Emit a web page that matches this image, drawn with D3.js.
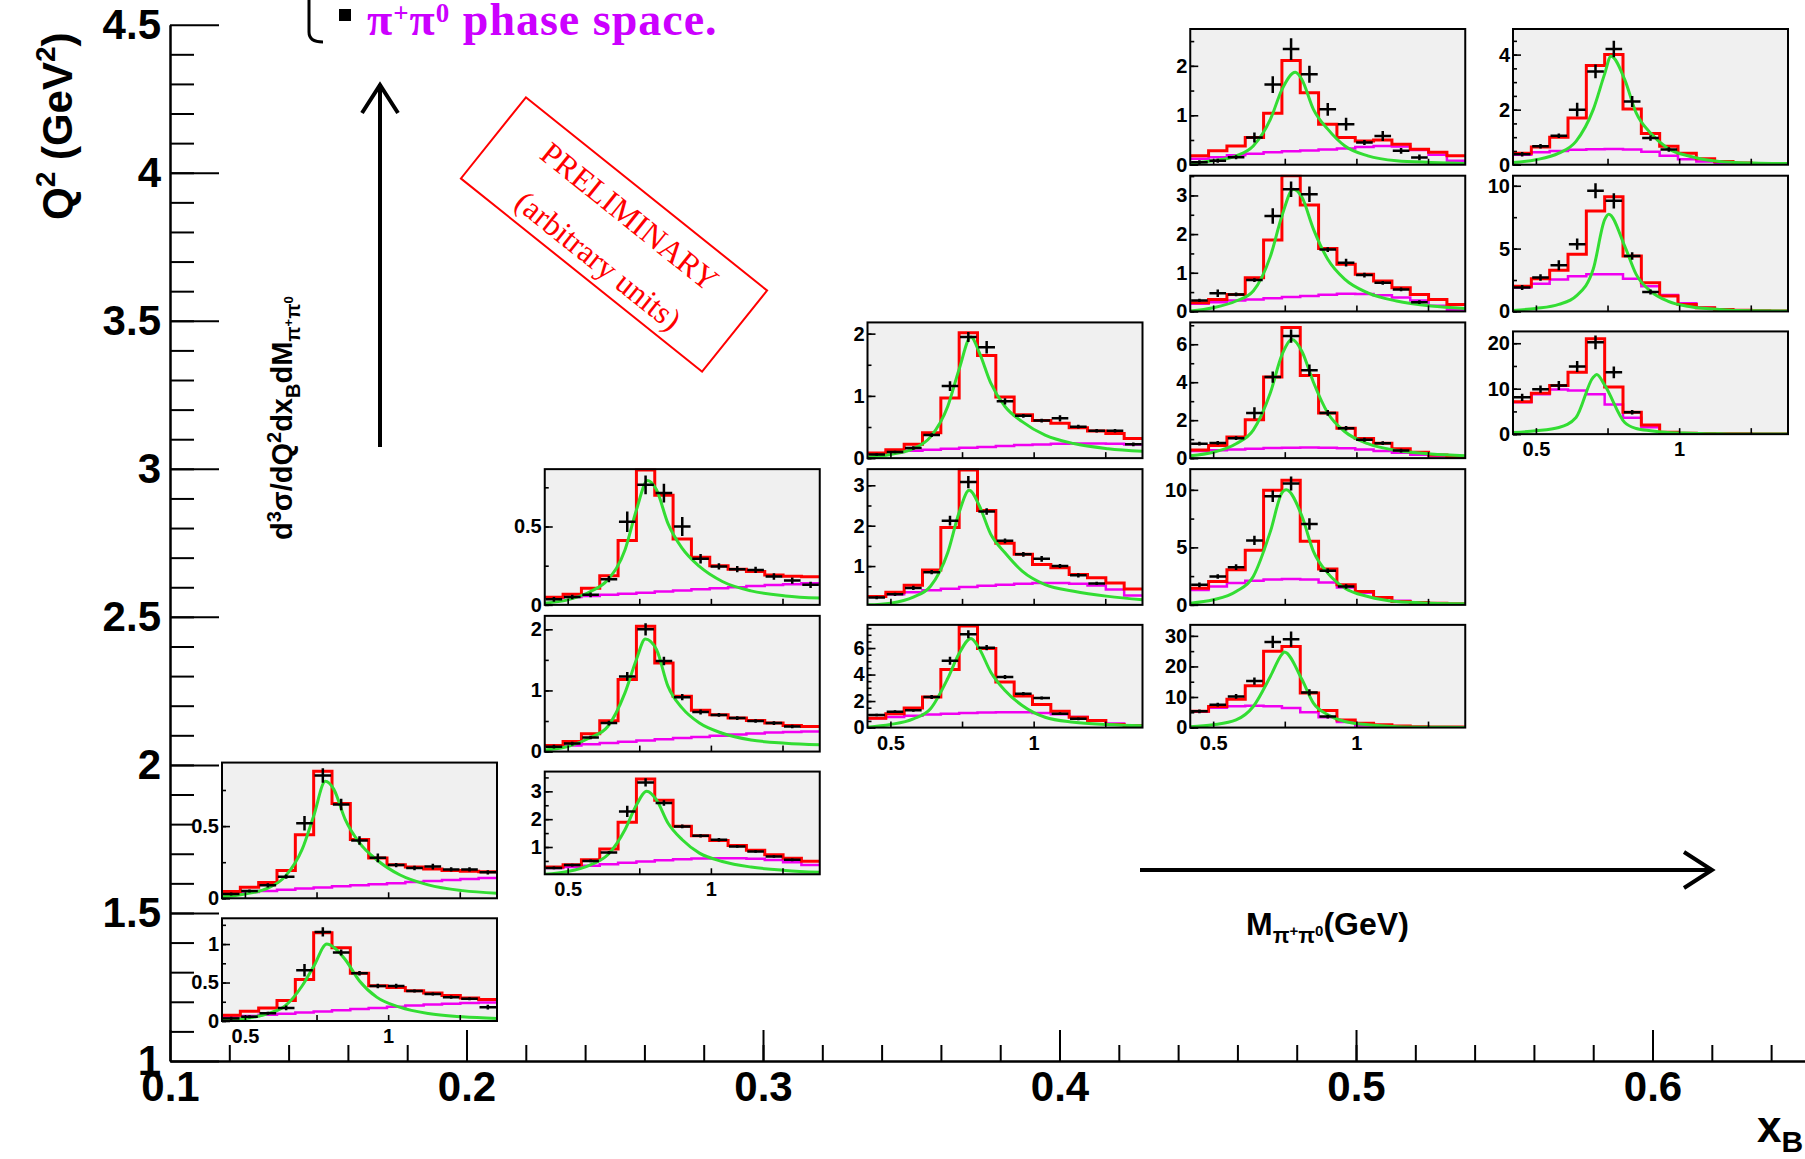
<!DOCTYPE html>
<html>
<head>
<meta charset="utf-8">
<script src="https://cdn.jsdelivr.net/npm/d3@7"></script>
<style>
  html, body { margin: 0; padding: 0; background: #fff; }
  svg { display: block; }
</style>
</head>
<body>
<script>
// ---------------------------------------------------------------------------
// Binning of the pi+ pi0 invariant-mass histograms (GeV)
const massEdges = [0.42, 0.484, 0.548, 0.612, 0.676, 0.74, 0.804, 0.868, 0.932,
                   0.996, 1.06, 1.124, 1.188, 1.252, 1.316, 1.38];
// masses at which the rho(770) line shape is sampled (GeV)
const rhoMass = [0.42, 0.50, 0.58, 0.64, 0.70, 0.74, 0.81, 0.85, 0.90, 0.96, 1.04, 1.14, 1.26, 1.38];

// kinematic bins of the pads: x_B column index and lower Q^2 edge (GeV^2)
const padColumn = [0, 0, 1, 1, 1, 2, 2, 2, 3, 3, 3, 3, 3, 4, 4, 4];
const padQ2Lo   = [1.5, 1.0, 2.5, 2.0, 1.5, 3.0, 2.5, 2.0, 4.0, 3.5, 3.0, 2.5, 2.0, 4.0, 3.5, 3.0];
// vertical range and tick steps of each pad
const padYMin   = [0, 0, 0, 0, 0.02, 0, 0.04, 0, 0, 0, 0, 0, 0, 0, 0, 0];
const padYMax   = [0.94, 1.335, 0.866, 2.22, 3.71, 2.18, 3.4, 7.75, 2.745, 3.51, 7.15, 11.8, 33.6, 4.93, 10.8, 22.6];
const padYStep  = [0.5, 0.5, 0.5, 1, 1, 1, 1, 2, 1, 1, 2, 5, 10, 2, 5, 10];
const padYMinor = [0.25, 0.25, 0.25, 0.5, 0.5, 0.5, 0.5, 0.5, 0.5, 0.5, 1, 2.5, 5, 0.5, 2.5, 5];

// ---- column 1, Q2 1.5-2.0
const total_c1_q15 = [0.047, 0.077, 0.109, 0.193, 0.44, 0.88, 0.656, 0.407, 0.279, 0.233, 0.216, 0.202, 0.193, 0.188, 0.184];
const phsp_c1_q15  = [0.035, 0.043, 0.051, 0.059, 0.067, 0.075, 0.083, 0.091, 0.098, 0.105, 0.112, 0.119, 0.126, 0.133, 0.14];
const data_c1_q15  = [0.03, 0.05, 0.09, 0.15, 0.52, 0.85, 0.65, 0.40, 0.28, 0.23, 0.21, 0.22, 0.20, 0.20, 0.18];
const err_c1_q15   = [0.01, 0.01, 0.015, 0.015, 0.05, 0.05, 0.04, 0.03, 0.03, 0.015, 0.015, 0.02, 0.015, 0.015, 0.015];
const rho_c1_q15   = [0.01, 0.03, 0.07, 0.15, 0.34, 0.57, 0.756, 0.547, 0.384, 0.267, 0.163, 0.093, 0.053, 0.035];
const rhoPk_c1_q15 = [0.781, 0.81];
// ---- column 1, Q2 1.0-1.5
const total_c1_q10 = [0.076, 0.127, 0.17, 0.267, 0.54, 1.148, 0.953, 0.619, 0.458, 0.436, 0.394, 0.364, 0.33, 0.30, 0.28];
const phsp_c1_q10  = [0.05, 0.065, 0.08, 0.095, 0.11, 0.125, 0.14, 0.155, 0.17, 0.185, 0.2, 0.215, 0.225, 0.235, 0.24];
const data_c1_q10  = [0.034, 0.055, 0.10, 0.17, 0.66, 1.157, 0.89, 0.62, 0.455, 0.455, 0.39, 0.35, 0.31, 0.29, 0.18];
const err_c1_q10   = [0.02, 0.02, 0.02, 0.03, 0.08, 0.06, 0.04, 0.03, 0.03, 0.03, 0.02, 0.02, 0.02, 0.02, 0.03];
const rho_c1_q10   = [0.02, 0.034, 0.097, 0.195, 0.458, 0.71, 0.96, 0.8, 0.52, 0.31, 0.18, 0.097, 0.055, 0.034];
const rhoPk_c1_q10 = [0.786, 1.0];
// ---- column 2, Q2 2.5-3.0
const total_c2_q25 = [0.049, 0.068, 0.106, 0.185, 0.41, 0.86, 0.70, 0.42, 0.304, 0.249, 0.228, 0.213, 0.19, 0.182, 0.18];
const phsp_c2_q25  = [0.043, 0.05, 0.057, 0.064, 0.071, 0.078, 0.085, 0.092, 0.099, 0.106, 0.113, 0.12, 0.126, 0.132, 0.138];
const data_c2_q25  = [0.035, 0.05, 0.064, 0.164, 0.53, 0.766, 0.713, 0.50, 0.294, 0.245, 0.228, 0.223, 0.181, 0.155, 0.128];
const err_c2_q25   = [0.015, 0.015, 0.015, 0.02, 0.065, 0.06, 0.06, 0.06, 0.03, 0.02, 0.02, 0.02, 0.02, 0.02, 0.02];
const rho_c2_q25   = [0.011, 0.032, 0.085, 0.16, 0.35, 0.606, 0.734, 0.52, 0.36, 0.245, 0.149, 0.089, 0.057, 0.043];
const rhoPk_c2_q25 = [0.779, 0.794];
// ---- column 2, Q2 2.0-2.5
const total_c2_q20 = [0.099, 0.164, 0.29, 0.504, 1.178, 2.05, 1.45, 0.904, 0.674, 0.603, 0.548, 0.51, 0.466, 0.427, 0.41];
const phsp_c2_q20  = [0.082, 0.1, 0.12, 0.14, 0.16, 0.18, 0.2, 0.22, 0.24, 0.26, 0.28, 0.295, 0.31, 0.32, 0.33];
const data_c2_q20  = [0.08, 0.13, 0.23, 0.466, 1.23, 2.0, 1.48, 0.89, 0.647, 0.60, 0.548, 0.50, 0.466, 0.41, null];
const err_c2_q20   = [0.03, 0.03, 0.03, 0.04, 0.07, 0.1, 0.07, 0.05, 0.04, 0.03, 0.03, 0.03, 0.03, 0.03, 0.03];
const rho_c2_q20   = [0.027, 0.082, 0.23, 0.41, 0.96, 1.507, 1.67, 1.07, 0.71, 0.466, 0.30, 0.19, 0.137, 0.11];
const rhoPk_c2_q20 = [0.771, 1.84];
// ---- column 2, Q2 1.5-2.0
const total_c2_q15 = [0.281, 0.365, 0.545, 0.928, 1.886, 3.443, 2.677, 1.743, 1.407, 1.23, 1.05, 0.88, 0.72, 0.60, 0.485];
const phsp_c2_q15  = [0.25, 0.28, 0.33, 0.38, 0.43, 0.48, 0.52, 0.56, 0.59, 0.60, 0.60, 0.58, 0.53, 0.45, 0.35];
const data_c2_q15  = [0.25, 0.35, 0.5, 0.8, 2.28, 3.32, 2.58, 1.74, 1.40, 1.26, 1.02, 0.84, 0.66, 0.54, null];
const err_c2_q15   = [0.05, 0.05, 0.05, 0.06, 0.2, 0.15, 0.1, 0.07, 0.06, 0.06, 0.05, 0.05, 0.05, 0.05, 0.05];
const rho_c2_q15   = [0.02, 0.12, 0.36, 0.72, 1.62, 2.51, 2.69, 1.86, 1.26, 0.78, 0.48, 0.28, 0.16, 0.09];
const rhoPk_c2_q15 = [0.776, 3.0];
// ---- column 3, Q2 3.0-3.5
const total_c3_q30 = [0.082, 0.136, 0.223, 0.408, 0.967, 2.016, 1.647, 0.984, 0.696, 0.603, 0.56, 0.49, 0.435, 0.397, 0.315];
const phsp_c3_q30  = [0.08, 0.1, 0.12, 0.135, 0.15, 0.165, 0.18, 0.195, 0.21, 0.22, 0.23, 0.235, 0.235, 0.23, 0.22];
const data_c3_q30  = [0.06, 0.1, 0.163, 0.37, 1.157, 1.945, 1.78, 0.913, 0.68, 0.603, 0.64, 0.505, 0.44, 0.44, 0.223];
const err_c3_q30   = [0.02, 0.02, 0.03, 0.03, 0.08, 0.08, 0.1, 0.05, 0.03, 0.03, 0.05, 0.03, 0.03, 0.03, 0.03];
const rho_c3_q30   = [0.016, 0.06, 0.152, 0.342, 0.83, 1.43, 1.70, 1.21, 0.83, 0.587, 0.37, 0.234, 0.152, 0.109];
const rhoPk_c3_q30 = [0.781, 1.946];
// ---- column 3, Q2 2.5-3.0
const total_c3_q25 = [0.25, 0.35, 0.525, 0.9, 1.958, 3.38, 2.375, 1.567, 1.29, 1.04, 0.96, 0.79, 0.71, 0.58, 0.43];
const phsp_c3_q25  = [0.25, 0.3, 0.35, 0.4, 0.44, 0.48, 0.51, 0.54, 0.56, 0.58, 0.58, 0.56, 0.52, 0.42, 0.27];
const data_c3_q25  = [0.22, 0.3, 0.46, 0.85, 2.125, 3.08, 2.35, 1.625, 1.29, 1.18, 1.0, 0.77, 0.57, null, null];
const err_c3_q25   = [0.04, 0.04, 0.05, 0.05, 0.12, 0.15, 0.08, 0.06, 0.06, 0.07, 0.05, 0.05, 0.04, 0.04, 0.04];
const rho_c3_q25   = [0.04, 0.083, 0.233, 0.5, 1.33, 2.33, 2.5, 1.79, 1.33, 0.875, 0.54, 0.375, 0.25, 0.167];
const rhoPk_c3_q25 = [0.775, 2.875];
// ---- column 3, Q2 2.0-2.5
const total_c3_q20 = [0.71, 1.04, 1.47, 2.3, 4.38, 7.67, 5.97, 3.44, 2.38, 1.75, 1.24, 0.78, 0.53, 0.23, 0.15];
const phsp_c3_q20  = [0.7, 0.8, 0.9, 0.98, 1.05, 1.1, 1.14, 1.16, 1.15, 1.1, 1.0, 0.8, 0.55, 0.3, 0.1];
const data_c3_q20  = [0.95, 1.2, 1.3, 2.3, 5.04, 7.04, 6.03, 3.82, 2.56, 2.23, 1.05, 0.66, null, null, null];
const err_c3_q20   = [0.1, 0.1, 0.1, 0.15, 0.3, 0.3, 0.2, 0.15, 0.12, 0.12, 0.1, 0.1, 0.1, 0.1, 0.1];
const rho_c3_q20   = [0.03, 0.23, 0.66, 1.42, 3.7, 5.6, 5.97, 4.2, 2.8, 1.67, 0.78, 0.41, 0.23, 0.13];
const rhoPk_c3_q20 = [0.781, 6.73];
// ---- column 4, Q2 4.0-4.5
const total_c4_q40 = [0.18, 0.28, 0.38, 0.55, 1.04, 2.11, 1.456, 0.82, 0.55, 0.48, 0.50, 0.416, 0.315, 0.25, 0.18];
const phsp_c4_q40  = [0.12, 0.15, 0.19, 0.22, 0.25, 0.27, 0.29, 0.31, 0.33, 0.36, 0.38, 0.37, 0.30, 0.20, 0.08];
const data_c4_q40  = [0.05, 0.08, 0.15, 0.55, 1.62, 2.34, 1.83, 1.12, 0.82, 0.45, 0.58, 0.28, 0.148, null, null];
const err_c4_q40   = [0.04, 0.04, 0.04, 0.1, 0.17, 0.22, 0.17, 0.13, 0.13, 0.05, 0.1, 0.06, 0.06, 0.04, 0.04];
const rho_c4_q40   = [0.03, 0.08, 0.18, 0.38, 0.92, 1.52, 1.72, 1.12, 0.72, 0.38, 0.18, 0.08, 0.047, 0.027];
const rhoPk_c4_q40 = [0.787, 1.87];
// ---- column 4, Q2 3.5-4.0
const total_c4_q35 = [0.225, 0.31, 0.44, 0.87, 1.85, 3.6, 2.75, 1.625, 1.22, 0.96, 0.79, 0.61, 0.44, 0.31, 0.18];
const phsp_c4_q35  = [0.2, 0.24, 0.28, 0.31, 0.34, 0.37, 0.40, 0.43, 0.46, 0.45, 0.42, 0.36, 0.28, 0.15, 0.04];
const data_c4_q35  = [0.285, 0.47, 0.44, 0.81, 2.47, 3.16, 3.03, 1.6, 1.26, 0.94, 0.74, 0.57, 0.24, null, null];
const err_c4_q35   = [0.04, 0.1, 0.05, 0.05, 0.2, 0.2, 0.2, 0.06, 0.1, 0.06, 0.05, 0.05, 0.05, 0.05, 0.05];
const rho_c4_q35   = [0.01, 0.095, 0.27, 0.53, 1.43, 2.47, 2.95, 2.13, 1.35, 0.83, 0.48, 0.27, 0.14, 0.078];
const rhoPk_c4_q35 = [0.78, 3.16];
// ---- column 4, Q2 3.0-3.5
const total_c4_q30 = [0.43, 0.67, 1.12, 2.02, 4.27, 6.88, 4.36, 2.38, 1.57, 1.03, 0.79, 0.49, 0.31, 0.16, 0.07];
const phsp_c4_q30  = [0.38, 0.42, 0.46, 0.5, 0.53, 0.55, 0.56, 0.55, 0.52, 0.46, 0.38, 0.28, 0.18, 0.1, 0.05];
const data_c4_q30  = [0.76, 0.8, 1.05, 2.38, 4.27, 6.43, 4.63, 2.38, 1.57, 0.97, 0.79, 0.4, null, null, null];
const err_c4_q30   = [0.1, 0.1, 0.1, 0.3, 0.3, 0.35, 0.3, 0.15, 0.12, 0.1, 0.1, 0.1, 0.1, 0.1, 0.1];
const rho_c4_q30   = [0.13, 0.31, 0.76, 1.48, 3.46, 5.44, 5.62, 4.0, 2.38, 1.39, 0.76, 0.4, 0.22, 0.13];
const rhoPk_c4_q30 = [0.776, 6.25];
// ---- column 4, Q2 2.5-3.0
const total_c4_q25 = [1.45, 2.03, 3.05, 4.74, 9.97, 10.84, 5.52, 3.11, 1.74, 1.16, 0.64, 0.29, 0.2, 0.15, 0.09];
const phsp_c4_q25  = [1.3, 1.6, 1.9, 2.1, 2.2, 2.25, 2.2, 1.95, 1.5, 1.05, 0.65, 0.35, 0.18, 0.08, 0.04];
const data_c4_q25  = [1.74, 2.47, 3.28, 5.6, 9.45, 10.55, 7.03, 2.96, 1.6, null, null, null, null, null, null];
const err_c4_q25   = [0.2, 0.2, 0.25, 0.4, 0.5, 0.6, 0.5, 0.2, 0.2, 0.2, 0.2, 0.2, 0.2, 0.2, 0.2];
const rho_c4_q25   = [0.15, 0.44, 1.16, 2.47, 6.4, 9.74, 7.7, 4.65, 2.76, 1.45, 0.73, 0.29, 0.15, 0.09];
const rhoPk_c4_q25 = [0.755, 10.0];
// ---- column 4, Q2 2.0-2.5
const total_c4_q20 = [5.3, 6.9, 9.3, 13.7, 25.0, 26.5, 11.3, 5.6, 2.5, 1.4, 0.9, 0.55, 0.3, 0.2, 0.15];
const phsp_c4_q20  = [5.2, 6.5, 7.0, 7.1, 7.0, 6.4, 5.0, 3.4, 1.8, 0.7, 0.3, 0.15, 0.08, 0.04, 0.02];
const data_c4_q20  = [5.3, 7.5, 10.2, 15.2, 28.0, 28.9, 11.5, 3.6, null, null, null, null, null, null, null];
const err_c4_q20   = [0.6, 0.6, 0.8, 1.2, 2.0, 2.5, 1.0, 0.6, 0.5, 0.5, 0.5, 0.5, 0.5, 0.5, 0.5];
const rho_c4_q20   = [0.3, 0.9, 2.5, 6.9, 16.8, 24.0, 15.7, 8.0, 4.2, 2.0, 0.9, 0.3, 0.1, 0.05];
const rhoPk_c4_q20 = [0.748, 24.7];
// ---- column 5, Q2 4.0-4.5
const total_c5_q40 = [0.42, 0.64, 1.0, 1.7, 3.6, 4.0, 2.02, 1.13, 0.67, 0.42, 0.22, 0.12, 0.06, 0.04, 0.02];
const phsp_c5_q40  = [0.36, 0.45, 0.5, 0.54, 0.56, 0.57, 0.55, 0.47, 0.33, 0.2, 0.12, 0.07, 0.04, 0.02, 0.01];
const data_c5_q40  = [0.38, 0.67, 1.05, 2.0, 3.39, 4.2, 2.3, 0.97, 0.55, null, null, null, null, null, null];
const err_c5_q40   = [0.08, 0.08, 0.08, 0.25, 0.25, 0.3, 0.2, 0.1, 0.08, 0.08, 0.08, 0.08, 0.08, 0.08, 0.08];
const rho_c5_q40   = [0.08, 0.18, 0.42, 0.85, 2.0, 3.3, 3.09, 1.88, 1.15, 0.6, 0.3, 0.12, 0.06, 0.04];
const rhoPk_c5_q40 = [0.762, 3.94];
// ---- column 5, Q2 3.5-4.0
const total_c5_q35 = [2.0, 2.6, 3.27, 4.55, 8.0, 9.12, 4.41, 2.29, 1.22, 0.56, 0.29, 0.16, 0.1, 0.05, 0.03];
const phsp_c5_q35  = [1.9, 2.2, 2.55, 2.8, 2.95, 2.95, 2.6, 2.0, 1.3, 0.65, 0.3, 0.14, 0.07, 0.03, 0.02];
const data_c5_q35  = [1.9, 2.7, 3.67, 5.35, 9.6, 8.8, 4.41, 1.54, null, null, null, null, null, null, null];
const err_c5_q35   = [0.2, 0.25, 0.4, 0.45, 0.6, 0.6, 0.3, 0.2, 0.2, 0.2, 0.2, 0.2, 0.2, 0.2, 0.2];
const rho_c5_q35   = [0.08, 0.24, 0.56, 1.22, 3.35, 7.3, 5.2, 2.95, 1.62, 0.82, 0.37, 0.16, 0.05, 0.03];
const rhoPk_c5_q35 = [0.754, 7.74];
// ---- column 5, Q2 3.0-3.5
const total_c5_q30 = [7.1, 9.0, 10.7, 13.6, 21.0, 10.4, 4.8, 2.0, 0.4, 0.2, 0.15, 0.1, 0.08, 0.05, 0.03];
const phsp_c5_q30  = [7.0, 8.8, 9.8, 9.6, 8.8, 6.5, 3.6, 1.5, 0.4, 0.15, 0.08, 0.04, 0.02, 0.01, 0.01];
const data_c5_q30  = [8.1, 9.9, 10.7, 14.9, 20.2, 13.6, 4.8, null, null, null, null, null, null, null, null];
const err_c5_q30   = [0.8, 0.8, 1.0, 1.2, 1.5, 1.3, 0.5, 0.4, 0.4, 0.4, 0.4, 0.4, 0.4, 0.4, 0.4];
const rho_c5_q30   = [0.37, 0.74, 1.47, 3.68, 12.5, 10.8, 2.57, 1.25, 0.74, 0.37, 0.2, 0.07, 0.03, 0.02];
const rhoPk_c5_q30 = [0.712, 13.1];

// main-frame tick labels
const xBTickLabels = [0.1, 0.2, 0.3, 0.4, 0.5, 0.6];
const q2TickLabels = [1, 1.5, 2, 2.5, 3, 3.5, 4, 4.5];
const massTicks = [0.5, 0.75, 1, 1.25];
const massTickLabels = [0.5, 1];

// ---------------------------------------------------------------------------
const totals = [total_c1_q15, total_c1_q10, total_c2_q25, total_c2_q20, total_c2_q15,
                total_c3_q30, total_c3_q25, total_c3_q20, total_c4_q40, total_c4_q35,
                total_c4_q30, total_c4_q25, total_c4_q20, total_c5_q40, total_c5_q35, total_c5_q30];
const phsps  = [phsp_c1_q15, phsp_c1_q10, phsp_c2_q25, phsp_c2_q20, phsp_c2_q15,
                phsp_c3_q30, phsp_c3_q25, phsp_c3_q20, phsp_c4_q40, phsp_c4_q35,
                phsp_c4_q30, phsp_c4_q25, phsp_c4_q20, phsp_c5_q40, phsp_c5_q35, phsp_c5_q30];
const datas  = [data_c1_q15, data_c1_q10, data_c2_q25, data_c2_q20, data_c2_q15,
                data_c3_q30, data_c3_q25, data_c3_q20, data_c4_q40, data_c4_q35,
                data_c4_q30, data_c4_q25, data_c4_q20, data_c5_q40, data_c5_q35, data_c5_q30];
const errs   = [err_c1_q15, err_c1_q10, err_c2_q25, err_c2_q20, err_c2_q15,
                err_c3_q30, err_c3_q25, err_c3_q20, err_c4_q40, err_c4_q35,
                err_c4_q30, err_c4_q25, err_c4_q20, err_c5_q40, err_c5_q35, err_c5_q30];
const rhos   = [rho_c1_q15, rho_c1_q10, rho_c2_q25, rho_c2_q20, rho_c2_q15,
                rho_c3_q30, rho_c3_q25, rho_c3_q20, rho_c4_q40, rho_c4_q35,
                rho_c4_q30, rho_c4_q25, rho_c4_q20, rho_c5_q40, rho_c5_q35, rho_c5_q30];
const rhoPks = [rhoPk_c1_q15, rhoPk_c1_q10, rhoPk_c2_q25, rhoPk_c2_q20, rhoPk_c2_q15,
                rhoPk_c3_q30, rhoPk_c3_q25, rhoPk_c3_q20, rhoPk_c4_q40, rhoPk_c4_q35,
                rhoPk_c4_q30, rhoPk_c4_q25, rhoPk_c4_q20, rhoPk_c5_q40, rhoPk_c5_q35, rhoPk_c5_q30];

const panels = padColumn.map((col, i) => ({
  col, q2Lo: padQ2Lo[i],
  yMin: padYMin[i], yMax: padYMax[i], yStep: padYStep[i], yMinor: padYMinor[i],
  total: totals[i], phsp: phsps[i], data: datas[i], err: errs[i], rho: rhos[i], rhoPk: rhoPks[i]
}));

// ---------------------------------------------------------------------------
const W = 1805, H = 1159;
const SANS = "'Liberation Sans', Arial, Helvetica, sans-serif";
const SERIF = "'Liberation Serif', 'Times New Roman', Times, serif";
const RED = "#ff0000", GREEN = "#33dd33", MAGENTA = "#f000f0", LEGEND_VIOLET = "#cc00ff";

const svg = d3.select("body").append("svg")
  .attr("width", W).attr("height", H)
  .attr("viewBox", `0 0 ${W} ${H}`);

// main frame: x_B horizontally, Q^2 vertically
const xB = d3.scaleLinear().domain([0.1, 0.652]).range([170, 1806.7]);
const q2 = d3.scaleLinear().domain([1, 4.5]).range([1061, 24.7]);

function styleAxis(g, fontSize, lineWidth) {
  g.attr("font-family", SANS).attr("font-size", fontSize).attr("font-weight", "bold");
  g.selectAll(".tick line").attr("stroke", "#000").attr("stroke-width", lineWidth);
  g.selectAll(".domain").attr("stroke", "#000").attr("stroke-width", lineWidth + 0.5);
  g.selectAll("text").attr("fill", "#000");
}

const roundTo = v => Math.round(v * 1000) / 1000;

// minor ticks first, then the labelled ones
svg.append("g").attr("transform", "translate(0,1061)")
  .call(d3.axisBottom(xB).tickValues(d3.range(0.12, 0.66, 0.02).map(roundTo))
          .tickSize(-16).tickSizeOuter(0).tickFormat(""))
  .call(g => g.select(".domain").remove())
  .call(g => styleAxis(g, 10, 2));
svg.append("g").attr("transform", "translate(0,1061)")
  .call(d3.axisBottom(xB).tickValues(xBTickLabels).tickSize(-31).tickSizeOuter(0)
          .tickPadding(10).tickFormat(d3.format(".1f")))
  .call(g => styleAxis(g, 42, 2));

svg.append("g").attr("transform", "translate(170,0)")
  .call(d3.axisLeft(q2).tickValues(d3.range(1.1, 4.45, 0.1).map(roundTo))
          .tickSize(-24).tickSizeOuter(0).tickFormat(""))
  .call(g => g.select(".domain").remove())
  .call(g => styleAxis(g, 10, 2));
svg.append("g").attr("transform", "translate(170,0)")
  .call(d3.axisLeft(q2).tickValues(q2TickLabels).tickSize(-49).tickSizeOuter(0)
          .tickPadding(9).tickFormat(d3.format("~g")))
  .call(g => styleAxis(g, 42, 2));

// rich text helper: parts carry their baseline offset and font size
function richText(sel, parts, baseSize) {
  let prev = 0;
  parts.forEach(p => {
    const off = p.off || 0;
    sel.append("tspan")
      .attr("dy", off - prev)
      .attr("font-size", p.size || baseSize)
      .text(p.t);
    prev = off;
  });
}

// axis titles
const q2Title = svg.append("text")
  .attr("transform", "translate(72,220) rotate(-90)")
  .attr("font-family", SANS).attr("font-weight", "bold").attr("font-size", 42);
richText(q2Title, [
  { t: "Q" }, { t: "2", off: -17, size: 28 }, { t: " (GeV" }, { t: "2", off: -17, size: 28 }, { t: ")" }
], 42);

const xBTitle = svg.append("text")
  .attr("x", 1757).attr("y", 1142)
  .attr("font-family", SANS).attr("font-weight", "bold").attr("font-size", 44);
richText(xBTitle, [{ t: "x" }, { t: "B", off: 10, size: 30 }], 44);

const xsTitle = svg.append("text")
  .attr("transform", "translate(292,540) rotate(-90)")
  .attr("font-family", SANS).attr("font-weight", "bold").attr("font-size", 29);
richText(xsTitle, [
  { t: "d" }, { t: "3", off: -11, size: 20 }, { t: "σ/dQ" }, { t: "2", off: -11, size: 20 },
  { t: "dx" }, { t: "B", off: 8, size: 20 }, { t: "dM" },
  { t: "π", off: 8, size: 20 }, { t: "+", off: 1, size: 13 }, { t: "π", off: 8, size: 20 }, { t: "0", off: 1, size: 13 }
], 29);

const mTitle = svg.append("text")
  .attr("x", 1246).attr("y", 935)
  .attr("font-family", SANS).attr("font-weight", "bold").attr("font-size", 32);
richText(mTitle, [
  { t: "M" }, { t: "π", off: 8, size: 22 }, { t: "+", off: 1, size: 15 },
  { t: "π", off: 8, size: 22 }, { t: "0", off: 1, size: 15 }, { t: "(GeV)" }
], 32);

// direction arrows
svg.append("path").attr("d", "M380,447 V84").attr("stroke", "#000").attr("stroke-width", 4).attr("fill", "none");
svg.append("path").attr("d", "M362,113 L380,85 L398,113").attr("stroke", "#000").attr("stroke-width", 4).attr("fill", "none");
svg.append("path").attr("d", "M1140,870 H1712").attr("stroke", "#000").attr("stroke-width", 4).attr("fill", "none");
svg.append("path").attr("d", "M1684,852 L1712,870 L1684,888").attr("stroke", "#000").attr("stroke-width", 4).attr("fill", "none");

// legend remnant: brace, marker and phase-space entry
svg.append("path").attr("d", "M309,0 V32 Q309,42 323,42").attr("stroke", "#000").attr("stroke-width", 3).attr("fill", "none");
svg.append("rect").attr("x", 339).attr("y", 9).attr("width", 12).attr("height", 12).attr("fill", "#000");
const legText = svg.append("text")
  .attr("x", 367).attr("y", 35)
  .attr("font-family", SERIF).attr("font-weight", "bold").attr("font-size", 46)
  .attr("letter-spacing", 1)
  .attr("fill", LEGEND_VIOLET);
richText(legText, [
  { t: "π" }, { t: "+", off: -13, size: 27 }, { t: "π" }, { t: "0", off: -13, size: 27 }, { t: " phase space." }
], 46);

// preliminary stamp
const stamp = svg.append("g").attr("transform", "translate(614,234.5) rotate(38.7)");
stamp.append("rect").attr("x", -154.5).attr("y", -52).attr("width", 309).attr("height", 104)
  .attr("fill", "none").attr("stroke", RED).attr("stroke-width", 2);
stamp.append("text").attr("x", 1).attr("y", -24).attr("text-anchor", "middle")
  .attr("dominant-baseline", "central")
  .attr("font-family", SERIF).attr("font-size", 32).attr("fill", RED).text("PRELIMINARY");
stamp.append("text").attr("x", 4).attr("y", 30).attr("text-anchor", "middle")
  .attr("dominant-baseline", "central")
  .attr("font-family", SERIF).attr("font-size", 32).attr("fill", RED).text("(arbitrary units)");

// ---------------------------------------------------------------------------
// pads placed on the (x_B, Q^2) grid
const padLeft = d3.scaleLinear().domain([0, 4]).range([222, 1513]);
const padRow = d3.scaleLinear().domain([1, 4.5]).range([1056, 29]);
const PAD_W = 275;
const defs = svg.append("defs");

panels.forEach((p, i) => {
  const lowest = d3.min(panels.filter(o => o.col === p.col), o => o.q2Lo);
  const labelled = p.q2Lo === lowest;
  const left = padLeft(p.col), right = left + PAD_W;
  const top = padRow(p.q2Lo + 0.5) + (labelled ? 9 : 0);
  const bottom = padRow(p.q2Lo) - (labelled ? 35 : 11);

  const mx = d3.scaleLinear().domain([massEdges[0], massEdges[massEdges.length - 1]]).range([left, right]);
  const my = d3.scaleLinear().domain([p.yMin, p.yMax]).range([bottom, top]).clamp(true);

  const g = svg.append("g");
  g.append("rect").attr("x", left).attr("y", top).attr("width", right - left).attr("height", bottom - top)
    .attr("fill", "#f0f0f0");

  defs.append("clipPath").attr("id", `pad${i}`)
    .append("rect").attr("x", left).attr("y", top - 1).attr("width", right - left).attr("height", bottom - top + 1);
  const body = g.append("g").attr("clip-path", `url(#pad${i})`);

  const stepLine = d3.line().x(d => mx(d[0])).y(d => my(d[1])).curve(d3.curveStepAfter);
  const stepPoints = vals => vals.map((v, k) => [massEdges[k], v]).concat([[massEdges[vals.length], vals[vals.length - 1]]]);

  // phase-space contribution
  body.append("path").attr("d", stepLine(stepPoints(p.phsp)))
    .attr("fill", "none").attr("stroke", MAGENTA).attr("stroke-width", 2.5);
  // total fit
  body.append("path").attr("d", stepLine(stepPoints(p.total)))
    .attr("fill", "none").attr("stroke", RED).attr("stroke-width", 3);
  // rho(770) line shape
  const rhoPts = rhoMass.map((m, k) => [m, p.rho[k]]).concat([p.rhoPk]).sort((a, b) => a[0] - b[0]);
  body.append("path")
    .attr("d", d3.line().x(d => mx(d[0])).y(d => my(d[1])).curve(d3.curveMonotoneX)(rhoPts))
    .attr("fill", "none").attr("stroke", GREEN).attr("stroke-width", 3);

  // measured points with error bars
  const pts = p.data.map((v, k) => ({ v, e: p.err[k], m: (massEdges[k] + massEdges[k + 1]) / 2 }))
    .filter(d => d.v !== null);
  const cross = body.append("g").attr("stroke", "#000").attr("stroke-width", 2.5);
  cross.selectAll("line.h").data(pts).join("line").attr("class", "h")
    .attr("x1", d => mx(d.m - 0.029)).attr("x2", d => mx(d.m + 0.029))
    .attr("y1", d => my(d.v)).attr("y2", d => my(d.v));
  cross.selectAll("line.v").data(pts).join("line").attr("class", "v")
    .attr("x1", d => mx(d.m)).attr("x2", d => mx(d.m))
    .attr("y1", d => my(d.v - d.e)).attr("y2", d => my(d.v + d.e));

  // frame
  g.append("rect").attr("x", left).attr("y", top).attr("width", right - left).attr("height", bottom - top)
    .attr("fill", "none").attr("stroke", "#000").attr("stroke-width", 2);

  // vertical axis of the pad
  const first = Math.ceil(p.yMin / p.yStep - 1e-9) * p.yStep;
  const majors = d3.range(first, p.yMax + 1e-9, p.yStep).map(roundTo);
  const firstMinor = Math.ceil(p.yMin / p.yMinor - 1e-9) * p.yMinor;
  const minors = d3.range(firstMinor, p.yMax + 1e-9, p.yMinor).map(roundTo);
  g.append("g").attr("transform", `translate(${left},0)`)
    .call(d3.axisLeft(my).tickValues(minors).tickSize(-4).tickSizeOuter(0).tickFormat(""))
    .call(a => a.select(".domain").remove())
    .call(a => styleAxis(a, 10, 1.6));
  g.append("g").attr("transform", `translate(${left},0)`)
    .call(d3.axisLeft(my).tickValues(majors).tickSize(-8).tickSizeOuter(0).tickPadding(3)
            .tickFormat(d3.format("~g")))
    .call(a => a.select(".domain").remove())
    .call(a => styleAxis(a, 20, 1.6));

  // mass axis of the pad
  g.append("g").attr("transform", `translate(0,${bottom})`)
    .call(d3.axisBottom(mx).tickValues(massTicks).tickSize(-6).tickSizeOuter(0).tickPadding(8)
            .tickFormat(d => (labelled && massTickLabels.includes(d)) ? d3.format("~g")(d) : ""))
    .call(a => a.select(".domain").remove())
    .call(a => styleAxis(a, 20, 1.6));
});
</script>
</body>
</html>
